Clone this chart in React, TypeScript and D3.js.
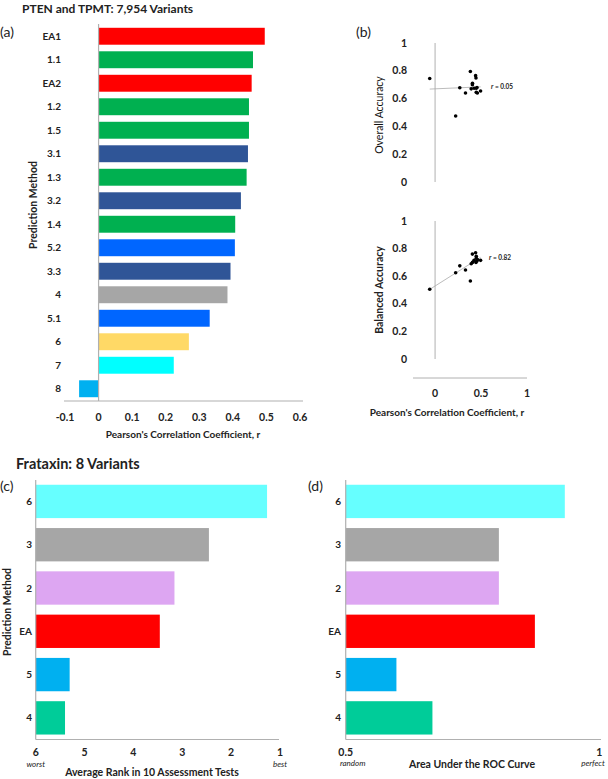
import React from "react";
import * as d3 from "d3";

// panel (a) / (b): PTEN and TPMT
const methodsA = ["EA1", "1.1", "EA2", "1.2", "1.5", "3.1", "1.3", "3.2", "1.4", "5.2", "3.3", "4", "5.1", "6", "7", "8"];
const pearsonR = [0.495, 0.46, 0.456, 0.448, 0.448, 0.445, 0.441, 0.424, 0.407, 0.406, 0.393, 0.384, 0.331, 0.269, 0.224, -0.058];
const colorsA = ["#ff0000", "#00b050", "#ff0000", "#00b050", "#00b050", "#2f5597", "#00b050", "#2f5597", "#00b050", "#0066ff", "#2f5597", "#a6a6a6", "#0066ff", "#ffd966", "#00ffff", "#00b0f0"];
const overallAcc = [0.655, 0.64, 0.68, 0.645, 0.675, 0.748, 0.765, 0.675, 0.71, 0.7, 0.67, 0.795, 0.64, 0.678, 0.475, 0.745];
const balancedAcc = [0.715, 0.72, 0.71, 0.73, 0.745, 0.7, 0.77, 0.715, 0.7, 0.76, 0.69, 0.565, 0.645, 0.675, 0.625, 0.505];
const rOverall = "0.05";
const rBalanced = "0.82";
const ticksA = [-0.1, 0, 0.1, 0.2, 0.3, 0.4, 0.5, 0.6];
const ticksAcc = [0, 0.2, 0.4, 0.6, 0.8, 1];
const ticksB = [0, 0.5, 1];

// panel (c) / (d): Frataxin
const methodsC = ["6", "3", "2", "EA", "5", "4"];
const colorsC = ["#66ffff", "#a6a6a6", "#dda6f2", "#ff0000", "#00b0f0", "#00cc99"];
const avgRank = [1.265, 2.455, 3.16, 3.46, 5.305, 5.4];
const aucValues = [0.932, 0.802, 0.802, 0.873, 0.6, 0.671];
const ticksRank = [6, 5, 4, 3, 2, 1];
const ticksAuc = [0.5, 1];

const font = "Lato, 'Open Sans', sans-serif";
const axisGray = "#b0b0b0";
const txt = "#222";

function fitLine(xs: number[], ys: number[]) {
  const mx = d3.mean(xs)!;
  const my = d3.mean(ys)!;
  const slope = d3.sum(xs, (x, i) => (x - mx) * (ys[i] - my)) / d3.sum(xs, (x) => (x - mx) ** 2);
  return (x: number) => my + slope * (x - mx);
}

export default function App() {
  const xA = d3.scaleLinear().domain([-0.1, 0.6]).range([65, 300]);
  const yA = d3.scaleBand().domain(methodsA).range([24.5, 400.5]).paddingInner(0.28).paddingOuter(0.14);

  const xB = d3.scaleLinear().domain([-0.24, 1]).range([413, 527]);
  const yB1 = d3.scaleLinear().domain([0, 1]).range([182, 43]);
  const yB2 = d3.scaleLinear().domain([0, 1]).range([359, 221]);
  const fitO = fitLine(pearsonR, overallAcc);
  const fitB = fitLine(pearsonR, balancedAcc);
  const [rMin, rMax] = d3.extent(pearsonR) as [number, number];

  const xC = d3.scaleLinear().domain([6, 1]).range([35.7, 280]);
  const xD = d3.scaleLinear().domain([0.5, 1]).range([345.7, 599.3]);
  const yC = d3.scaleBand().domain(methodsC).range([480, 739.3]).paddingInner(0.23).paddingOuter(0.11);

  const scatter = (ys: number[], yS: d3.ScaleLinear<number, number>, fit: (x: number) => number, label: string, lx: number, title: string, bold: boolean, cy: number) => (
    <g>
      <line x1={xB(0)} x2={xB(0)} y1={yS(1)} y2={yS(0)} stroke={axisGray} strokeWidth={1} />
      {ticksAcc.map((t) => (
        <text key={t} x={407} y={yS(t)} dy="0.35em" textAnchor="end" fontSize={10.5} fontWeight="bold" fill={txt}>
          {t}
        </text>
      ))}
      <line x1={xB(rMin)} x2={xB(rMax)} y1={yS(fit(rMin))} y2={yS(fit(rMax))} stroke="#aaa" strokeWidth={0.8} />
      {pearsonR.map((r, i) => (
        <circle key={i} cx={xB(r)} cy={yS(ys[i])} r={1.8} fill="#000" />
      ))}
      <text x={lx} y={yS(fit(rMax))} dy="0.35em" fontSize={6.5} fontWeight="bold" fill={txt}>
        <tspan fontStyle="italic">r</tspan> = {label}
      </text>
      <text transform={`translate(383,${cy}) rotate(-90)`} textAnchor="middle" fontSize={10.5} fontWeight={bold ? "bold" : "normal"} fill={bold ? txt : "#111"}>
        {title}
      </text>
    </g>
  );

  return (
    <svg width={608} height={779} style={{ position: "absolute", left: 0, top: 0, background: "#fff" }} fontFamily={font}>
      {/* (a) */}
      <text x={22} y={13} fontSize={12} fontWeight="bold" fill={txt}>PTEN and TPMT: 7,954 Variants</text>
      <text x={0} y={37} fontSize={14} fill={txt}>(a)</text>
      {methodsA.map((m, i) => {
        const v = pearsonR[i];
        return (
          <rect key={m} x={xA(Math.min(0, v))} y={yA(m)} width={Math.abs(xA(v) - xA(0))} height={yA.bandwidth()} fill={colorsA[i]} />
        );
      })}
      {methodsA.map((m) => (
        <text key={m} x={61} y={yA(m)! + yA.bandwidth() / 2} dy="0.35em" textAnchor="end" fontSize={10} fontWeight="bold" fill={txt}>
          {m}
        </text>
      ))}
      <line x1={xA(0)} x2={xA(0)} y1={24} y2={401} stroke={axisGray} strokeWidth={1.2} />
      <line x1={64} x2={303} y1={401} y2={401} stroke={axisGray} strokeWidth={1.2} />
      {ticksA.map((t) => (
        <text key={t} x={xA(t)} y={417} dy="0.35em" textAnchor="middle" fontSize={10.5} fontWeight="bold" fill={txt}>
          {t}
        </text>
      ))}
      <text x={183} y={438} textAnchor="middle" fontSize={10} fontWeight="bold" fill={txt}>Pearson's Correlation Coefficient, r</text>
      <text transform="translate(37,205) rotate(-90)" textAnchor="middle" fontSize={10.5} fontWeight="bold" fill={txt}>Prediction Method</text>

      {/* (b) */}
      <text x={356} y={37} fontSize={14} fill={txt}>(b)</text>
      {scatter(overallAcc, yB1, fitO, rOverall, 491, "Overall Accuracy", false, 115)}
      {scatter(balancedAcc, yB2, fitB, rBalanced, 489, "Balanced Accuracy", true, 290)}
      <line x1={xB.range()[0]} x2={xB.range()[1]} y1={378} y2={378} stroke={axisGray} strokeWidth={1} />
      {ticksB.map((t) => (
        <text key={t} x={xB(t)} y={393} dy="0.35em" textAnchor="middle" fontSize={10.5} fontWeight="bold" fill={txt}>
          {t}
        </text>
      ))}
      <text x={447} y={416} textAnchor="middle" fontSize={10} fontWeight="bold" fill={txt}>Pearson's Correlation Coefficient, r</text>

      {/* (c) */}
      <text x={16} y={469} fontSize={14.5} fontWeight="bold" fill={txt}>Frataxin: 8 Variants</text>
      <text x={0} y={491} fontSize={14} fill={txt}>(c)</text>
      {methodsC.map((m, i) => (
        <rect key={m} x={xC(6)} y={yC(m)} width={xC(avgRank[i]) - xC(6)} height={yC.bandwidth()} fill={colorsC[i]} />
      ))}
      {methodsC.map((m) => (
        <text key={m} x={32} y={yC(m)! + yC.bandwidth() / 2} dy="0.35em" textAnchor="end" fontSize={10} fontWeight="bold" fill={txt}>
          {m}
        </text>
      ))}
      <line x1={xC(6)} x2={xC(6)} y1={480} y2={739.5} stroke={axisGray} strokeWidth={1.2} />
      <line x1={xC(6)} x2={279} y1={739.5} y2={739.5} stroke={axisGray} strokeWidth={1.2} />
      {ticksRank.map((t) => (
        <text key={t} x={xC(t)} y={752} dy="0.35em" textAnchor="middle" fontSize={10.5} fontWeight="bold" fill={txt}>
          {t}
        </text>
      ))}
      <text x={xC(6)} y={767} textAnchor="middle" fontSize={8} fontStyle="italic" fill={txt}>worst</text>
      <text x={xC(1)} y={767} textAnchor="middle" fontSize={8} fontStyle="italic" fill={txt}>best</text>
      <text x={152} y={776} textAnchor="middle" fontSize={10.5} fontWeight="bold" fill={txt}>Average Rank in 10 Assessment Tests</text>
      <text transform="translate(11,612) rotate(-90)" textAnchor="middle" fontSize={10.5} fontWeight="bold" fill={txt}>Prediction Method</text>

      {/* (d) */}
      <text x={308} y={491} fontSize={14} fill={txt}>(d)</text>
      {methodsC.map((m, i) => (
        <rect key={m} x={xD(0.5)} y={yC(m)} width={xD(aucValues[i]) - xD(0.5)} height={yC.bandwidth()} fill={colorsC[i]} />
      ))}
      {methodsC.map((m) => (
        <text key={m} x={341} y={yC(m)! + yC.bandwidth() / 2} dy="0.35em" textAnchor="end" fontSize={10} fontWeight="bold" fill={txt}>
          {m}
        </text>
      ))}
      <line x1={xD(0.5)} x2={xD(0.5)} y1={480} y2={739.5} stroke={axisGray} strokeWidth={1.2} />
      <line x1={xD(0.5)} x2={601} y1={739.5} y2={739.5} stroke={axisGray} strokeWidth={1.2} />
      {ticksAuc.map((t) => (
        <text key={t} x={xD(t)} y={752} dy="0.35em" textAnchor="middle" fontSize={10.5} fontWeight="bold" fill={txt}>
          {t}
        </text>
      ))}
      <text x={xD(0.5) + 7} y={766} textAnchor="middle" fontSize={8} fontStyle="italic" fill={txt}>random</text>
      <text x={593} y={766} textAnchor="middle" fontSize={8} fontStyle="italic" fill={txt}>perfect</text>
      <text x={472} y={768} textAnchor="middle" fontSize={10.5} fontWeight="bold" fill={txt}>Area Under the ROC Curve</text>
    </svg>
  );
}
